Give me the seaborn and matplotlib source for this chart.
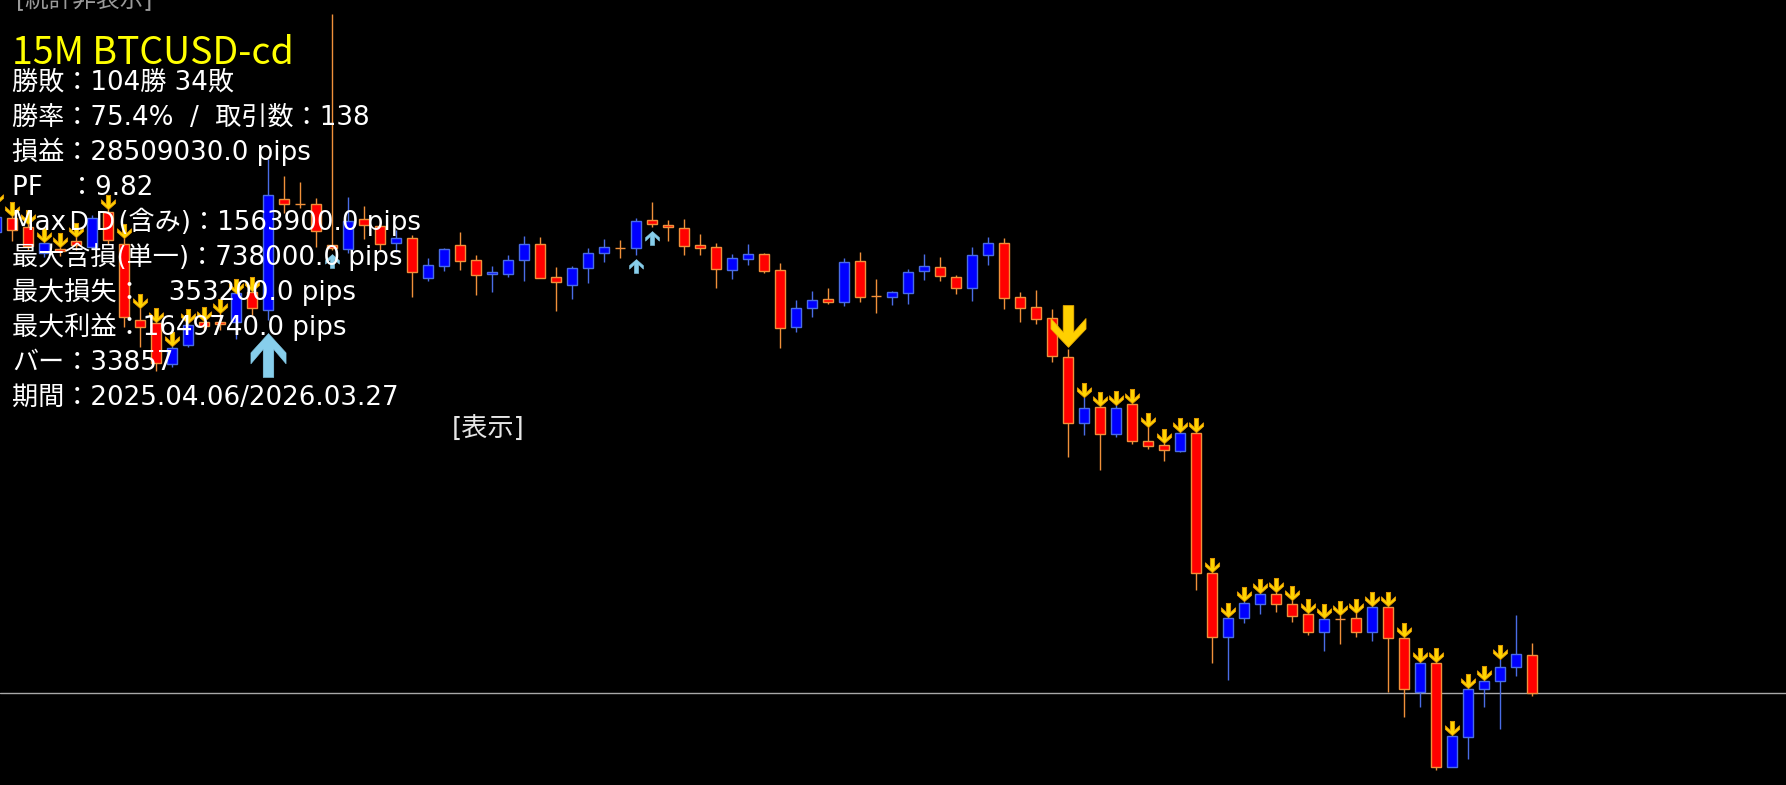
"""
MT4-style candle chart with a stats overlay (15M BTCUSD-cd).
"""

import numpy as np
import pandas as pd
import matplotlib
matplotlib.use("Agg")  # no display
import matplotlib.pyplot as plt
from matplotlib.path import Path
from matplotlib.markers import MarkerStyle
import seaborn as sns

# Candles: rows counted from the top of the window.
# Price is taken as (WINDOW_ROWS - row), so larger rows mean lower prices.
WINDOW_ROWS = 785
bar_index = list(range(-1, 96))
open_row = [232, 218, 227, 253, 249, 241, 247, 212, 244, 320, 323, 364, 345, 322, 322, 322,
            292, 310, 199, 204, 204, 245, 249, 219, 226, 243, 238, 278, 266, 245, 260, 274,
            274, 260, 244, 277, 285, 268, 253, 248, 248, 220, 225, 228, 245, 247, 270, 259,
            254, 270, 327, 308, 299, 302, 261, 296, 297, 293, 271, 267, 277, 288, 255, 243,
            297, 307, 318, 357, 423, 407, 434, 404, 441, 445, 451, 433, 573, 637, 618, 604,
            594, 604, 614, 632, 619, 618, 632, 607, 638, 692, 663, 767, 737, 689, 681, 667,
            655]
high_row = [204, 216, 224, 242, 247, 237, 215, 209, 238, 308, 322, 346, 323, 321, 313, 293,
            291, 159, 176, 182, 198, 14, 197, 206, 218, 230, 235, 258, 248, 232, 255, 266,
            255, 236, 237, 267, 266, 248, 239, 240, 218, 202, 220, 219, 234, 243, 254, 244,
            253, 263, 300, 291, 288, 258, 252, 279, 291, 269, 254, 257, 275, 247, 237, 238,
            292, 290, 309, 349, 397, 406, 405, 403, 427, 443, 432, 432, 572, 617, 601, 593,
            592, 600, 613, 618, 615, 613, 606, 606, 637, 662, 662, 735, 688, 680, 659, 615,
            643]
low_row = [236, 241, 250, 257, 256, 250, 249, 244, 327, 347, 371, 367, 347, 330, 330, 339,
           315, 320, 213, 208, 247, 250, 253, 239, 250, 252, 297, 281, 271, 270, 295, 292,
           277, 281, 278, 311, 299, 283, 262, 258, 255, 227, 241, 255, 255, 288, 279, 265,
           273, 348, 332, 317, 304, 306, 302, 313, 305, 304, 280, 281, 294, 301, 265, 309,
           322, 324, 362, 457, 435, 470, 437, 444, 449, 461, 452, 590, 663, 680, 623, 614,
           612, 622, 635, 651, 644, 637, 641, 692, 717, 707, 770, 767, 759, 707, 729, 676,
           696]
close_row = [217, 230, 246, 243, 251, 245, 218, 240, 317, 327, 363, 348, 325, 326, 324, 293,
             308, 195, 204, 204, 231, 248, 221, 225, 244, 238, 272, 265, 249, 261, 275, 272,
             260, 244, 278, 282, 268, 253, 247, 248, 221, 224, 227, 246, 248, 269, 258, 254,
             271, 328, 308, 300, 302, 262, 297, 296, 292, 272, 266, 276, 288, 255, 243, 298,
             308, 319, 356, 423, 408, 434, 408, 441, 446, 450, 433, 573, 637, 618, 603, 594,
             604, 616, 632, 619, 619, 632, 607, 638, 689, 663, 767, 736, 689, 681, 667, 654,
             693]

# Signal arrows drawn by the indicator
sell_signal_bars = [-1, 0, 1, 2, 3, 4, 6, 7, 8, 9, 10, 11, 12, 13, 14, 15] + list(range(67, 94))
buy_signal_bars = [20, 39, 40]
entry_sell_bar = [66]
entry_buy_bar = [16]

title = "15M BTCUSD-cd"
stats_lines = [
    "勝敗：104勝 34敗",
    "勝率：75.4%  /  取引数：138",
    "損益：28509030.0 pips",
    "PF　：9.82",
    "MaxＤＤ(含み)：1563900.0 pips",
    "最大含損(単一)：738000.0 pips",
    "最大損失：　353200.0 pips",
    "最大利益：1649740.0 pips",
    "バー：33857",
    "期間：2025.04.06/2026.03.27",
]
header_text = "[統計非表示]"
toggle_text = "[表示]"

W, H = 1786, 785

sns.set_theme(style="dark", rc={"axes.facecolor": "black", "figure.facecolor": "black"})
plt.rcParams["font.family"] = ["Noto Sans CJK JP", "DejaVu Sans"]
# Latin glyphs of the terminal font are wide, DejaVu is close to them
stat_fonts = ["DejaVu Sans", "Noto Sans CJK JP"]

df = pd.DataFrame({"bar": bar_index})
df["open"] = WINDOW_ROWS - np.array(open_row)
df["high"] = WINDOW_ROWS - np.array(high_row)
df["low"] = WINDOW_ROWS - np.array(low_row)
df["close"] = WINDOW_ROWS - np.array(close_row)
df["bull"] = df["close"] > df["open"]

RED_FILL, RED_EDGE = "#ff0000", "#f0903a"
BLUE_FILL, BLUE_EDGE = "#0000ff", "#4a6ce6"

fig = plt.figure(figsize=(W / 100, H / 100), dpi=100)
ax = fig.add_axes([0, 0, 1, 1])
ax.set_facecolor("black")

# wicks
wick_colors = np.where(df["bull"], BLUE_EDGE, RED_EDGE)
ax.vlines(df["bar"], df["low"], df["high"], colors=wick_colors, linewidth=1.0, zorder=2)

# bodies
ax.bar(
    df["bar"],
    df["close"] - df["open"],
    bottom=df["open"],
    width=0.64,
    color=np.where(df["bull"], BLUE_FILL, RED_FILL),
    edgecolor=wick_colors,
    linewidth=1.0,
    zorder=3,
)

# last price line
ax.axhline(df["close"].iloc[-1], color="#a8a8a8", linewidth=1.0, zorder=1)


def arrow_path(width=1.0, up=False):
    pts = np.array([(-0.3, 1), (0.3, 1), (0.3, -0.28), (1, 0.38), (1, -0.12),
                    (0, -1), (-1, -0.12), (-1, 0.38), (-0.3, -0.28), (-0.3, 1)], float)
    pts[:, 0] *= width
    if up:
        pts[:, 1] *= -1
    codes = [Path.MOVETO] + [Path.LINETO] * (len(pts) - 2) + [Path.CLOSEPOLY]
    return MarkerStyle(Path(pts, codes))


sel = df.set_index("bar")

small_dn = pd.DataFrame({"bar": sell_signal_bars})
small_dn["y"] = sel.loc[sell_signal_bars, "high"].values + 7
sns.scatterplot(data=small_dn, x="bar", y="y", marker=arrow_path(), s=105,
                color="#ffd400", edgecolor="#e89a00", linewidth=0.6, ax=ax,
                legend=False, zorder=5)

small_up = pd.DataFrame({"bar": buy_signal_bars})
small_up["y"] = sel.loc[buy_signal_bars, "low"].values - 11
sns.scatterplot(data=small_up, x="bar", y="y", marker=arrow_path(up=True), s=100,
                color="#87ceeb", edgecolor="#87ceeb", linewidth=0.4, ax=ax,
                legend=False, zorder=5)

big_dn = pd.DataFrame({"bar": entry_sell_bar})
big_dn["y"] = sel.loc[entry_sell_bar, "high"].values + 23
sns.scatterplot(data=big_dn, x="bar", y="y", marker=arrow_path(width=0.84), s=900,
                color="#ffd000", edgecolor="#f0b000", linewidth=0.6, ax=ax,
                legend=False, zorder=5)

big_up = pd.DataFrame({"bar": entry_buy_bar})
big_up["y"] = sel.loc[entry_buy_bar, "low"].values - 35
sns.scatterplot(data=big_up, x="bar", y="y", marker=arrow_path(width=0.8, up=True), s=1000,
                color="#87ceeb", edgecolor="#87ceeb", linewidth=0.4, ax=ax,
                legend=False, zorder=5)

# 16 px per bar, bar 0 sits 12 px from the left edge
ax.set_xlim(-12 / 16, (W - 12) / 16)
ax.set_ylim(0, H)
ax.set_axis_off()


def px(x, y):
    return x / W, 1 - y / H


fig.text(*px(16, 7), header_text, color="#9a9a9a", fontsize=17, va="baseline",
         ha="left", family=stat_fonts)
fig.text(*px(12, 64), title, color="#ffff00", fontsize=27, va="baseline", ha="left")
for k, line in enumerate(stats_lines):
    fig.text(*px(12, 90 + 35 * k), line, color="white", fontsize=18.8,
             va="baseline", ha="left", family=stat_fonts)
fig.text(*px(452, 436), toggle_text, color="#e6e6e6", fontsize=18.8, va="baseline",
         ha="left", family=stat_fonts)

fig.savefig("out.png", dpi=100, facecolor="black")
plt.close(fig)
